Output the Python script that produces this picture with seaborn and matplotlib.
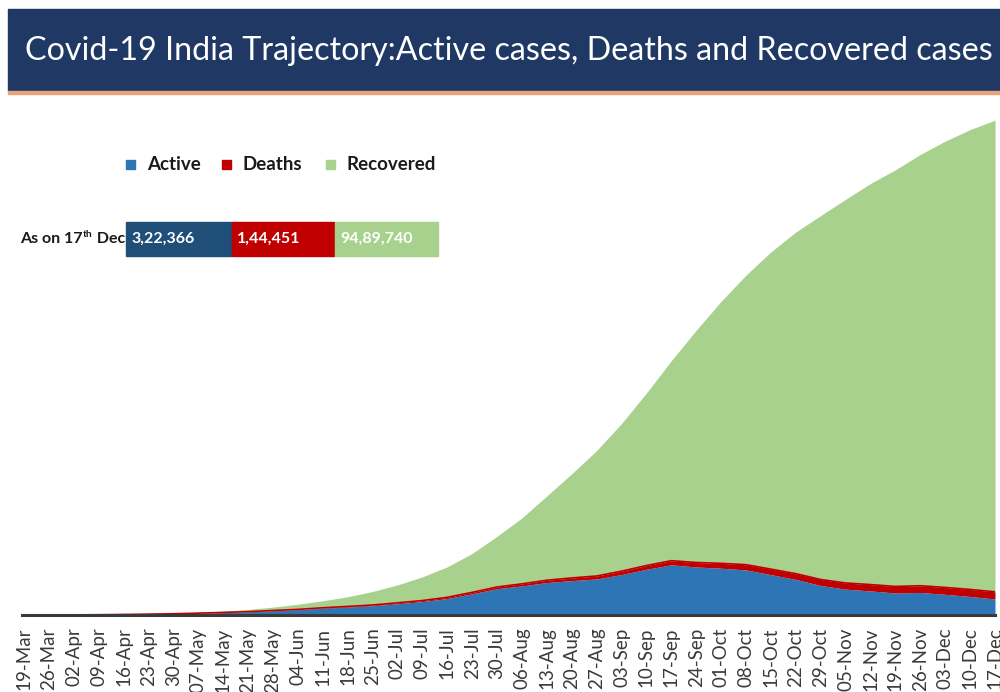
import matplotlib
matplotlib.use("Agg")
import matplotlib.pyplot as plt
import seaborn as sns
import pandas as pd
import numpy as np
from matplotlib.patches import Rectangle

# ---------------- data (weekly) ----------------
dates = ['19-Mar', '26-Mar', '02-Apr', '09-Apr', '16-Apr', '23-Apr', '30-Apr',
         '07-May', '14-May', '21-May', '28-May', '04-Jun', '11-Jun', '18-Jun',
         '25-Jun', '02-Jul', '09-Jul', '16-Jul', '23-Jul', '30-Jul', '06-Aug',
         '13-Aug', '20-Aug', '27-Aug', '03-Sep', '10-Sep', '17-Sep', '24-Sep',
         '01-Oct', '08-Oct', '15-Oct', '22-Oct', '29-Oct', '05-Nov', '12-Nov',
         '19-Nov', '26-Nov', '03-Dec', '10-Dec', '17-Dec']

active = [170, 640, 2100, 5200, 10200, 16400, 24000, 35900, 49200, 63600,
          86400, 106700, 137400, 160400, 186500, 227400, 269800, 331000,
          426000, 528000, 586000, 653000, 692000, 725000, 815000, 920000,
          1010000, 966000, 941000, 907000, 812000, 715000, 594000, 520000,
          484000, 443000, 454000, 416000, 373000, 322366]

deaths = [4, 20, 72, 199, 414, 681, 1074, 1783, 2549, 3435, 4531, 6075, 8102,
          12237, 14894, 17834, 21129, 24915, 29861, 35747, 40699, 47033, 53866,
          60472, 67376, 75062, 83198, 90020, 98678, 105526, 111266, 116616,
          120527, 124315, 128121, 131578, 135223, 138648, 141360, 144451]

recovered = [20, 66, 190, 500, 1500, 4300, 8400, 15300, 26200, 45300, 67700,
             104100, 141000, 194300, 271700, 359900, 476400, 612800, 782600,
             1019700, 1328300, 1695900, 2096600, 2523800, 2970500, 3471800,
             4025000, 4674000, 5273000, 5827000, 6383000, 6874000, 7324000,
             7720000, 8071000, 8383000, 8677000, 8980000, 9252000, 9489740]

series_names = ['Active', 'Deaths', 'Recovered']
summary_values = ['3,22,366', '1,44,451', '94,89,740']
summary_caption = ('As on 17', 'th', ' Dec')
title = 'Covid-19 India Trajectory:Active cases, Deaths and Recovered cases'

# ---------------- style ----------------
BLUE = '#2e75b6'
RED = '#c00000'
GREEN = '#a9d18e'
BOX_BLUE = '#1f4e79'
NAVY = '#1f3864'

sns.set_theme(style='white')
plt.rcParams['font.family'] = ['Lato', 'DejaVu Sans']

W, H = 1000, 692
fig = plt.figure(figsize=(W / 100, H / 100), dpi=100)
fig.patch.set_facecolor('white')


def fx(px):
    return px / W


def fy(py):
    return 1 - py / H


df = pd.DataFrame({
    'date': pd.date_range('2020-03-19', periods=len(dates), freq='7D'),
    'Active': active, 'Deaths': deaths, 'Recovered': recovered,
})
df['day'] = (df['date'] - df['date'].iloc[0]).dt.days
df['top_active'] = df['Active']
df['top_deaths'] = df['Active'] + df['Deaths']
df['top_recovered'] = df['top_deaths'] + df['Recovered']

# axes: baseline at y=615 px, top at y=110 px, x from 22 to 995 px
ax = fig.add_axes([fx(22), fy(615), fx(995) - fx(22), (615 - 110) / H])
x = df['day'].values
ax.fill_between(x, 0, df['top_active'], color=BLUE, lw=0, zorder=2)
ax.fill_between(x, df['top_active'], df['top_deaths'], color=RED, lw=0, zorder=2)
ax.fill_between(x, df['top_deaths'], df['top_recovered'], color=GREEN, lw=0, zorder=2)
sns.lineplot(data=df, x='day', y='top_deaths', color=RED, lw=1.2, ax=ax, zorder=3)

ax.set_xlim(-0.56, x[-1])
ax.set_ylim(0, 505 / 49.7 * 1e6)
ax.set_xticks(x)
ax.set_xticklabels(dates, rotation=90, fontsize=13.5, color='#3a3a3a')
ax.tick_params(axis='x', length=0, pad=9)
ax.set_yticks([])
ax.set_xlabel('')
ax.set_ylabel('')
for s in ['left', 'right', 'top']:
    ax.spines[s].set_visible(False)
ax.spines['bottom'].set_color('#3a3a3a')
ax.spines['bottom'].set_linewidth(2.2)
ax.spines['bottom'].set_zorder(4)
ax.set_facecolor('none')

# ---------------- title banner ----------------
fig.patches.append(Rectangle((fx(8), fy(91)), fx(1000) - fx(8), (91 - 9) / H,
                             transform=fig.transFigure, color=NAVY, zorder=0))
fig.patches.append(Rectangle((fx(8), fy(94)), fx(1000) - fx(8), 3 / H,
                             transform=fig.transFigure, color='#e9a27a', zorder=0))
renderer = fig.canvas.get_renderer()
t = fig.text(fx(25), fy(51), title, color='white', fontsize=30,
             family=['Liberation Sans Narrow', 'Lato', 'DejaVu Sans'],
             ha='left', va='center')
wpx = t.get_window_extent(renderer).width
t.set_fontsize(30 * 965 / wpx)

# ---------------- legend ----------------
leg_items = [(series_names[0], BLUE, 126), (series_names[1], RED, 222),
             (series_names[2], GREEN, 326)]
for name, col, px in leg_items:
    fig.patches.append(Rectangle((fx(px), fy(169)), 9 / W, 9 / H,
                                 transform=fig.transFigure, color=col))
    fig.text(fx(px + 21), fy(164), name, fontsize=13.5, fontweight='bold',
             color='#1a1a1a', ha='left', va='center')

# ---------------- summary table ----------------
boxes = [(126, 232, BOX_BLUE), (232, 334, RED), (335, 438, GREEN)]
for (x0, x1, col), val in zip(boxes, summary_values):
    fig.patches.append(Rectangle((fx(x0), fy(256)), (x1 - x0) / W, (256 - 222) / H,
                                 transform=fig.transFigure, color=col))
    fig.text(fx(x0 + 5), fy(239), val, fontsize=11.5, fontweight='bold',
             color='white', ha='left', va='center')

c1 = fig.text(fx(20), fy(239), summary_caption[0], fontsize=11.5,
              fontweight='bold', color='#1a1a1a', ha='left', va='center')
e1 = c1.get_window_extent(renderer)
c2 = fig.text(e1.x1 / W + 0.0005, fy(234), summary_caption[1], fontsize=7.5,
              fontweight='bold', color='#1a1a1a', ha='left', va='center')
e2 = c2.get_window_extent(renderer)
fig.text(e2.x1 / W, fy(239), summary_caption[2], fontsize=11.5,
         fontweight='bold', color='#1a1a1a', ha='left', va='center')

fig.savefig('out.png', dpi=100)
